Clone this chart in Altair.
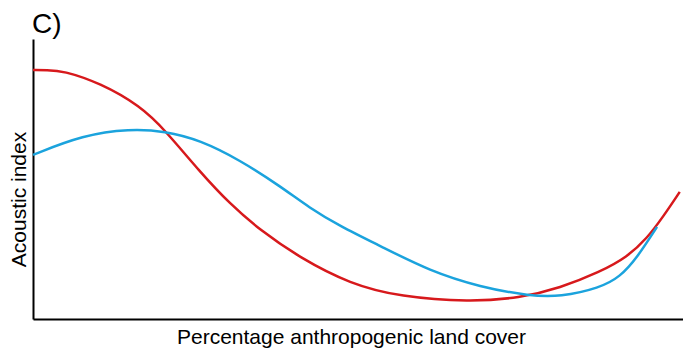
import altair as alt
import pandas as pd

# Red curve (x = % anthropogenic land cover, y = acoustic index, arbitrary units)
red_x = [0, 2.1, 4.6, 10.3, 16.5, 20.3, 25.7, 30.3, 34.9, 41.1, 48.8, 56.5, 67.2, 74.9,
         81.1, 87.2, 91.4, 94.5, 96.9, 99.5]
red_y = [88.9, 88.9, 88.7, 84.3, 76.1, 67.5, 52.5, 41.1, 31.8, 21.8, 12.5, 7.9, 6.1, 7.5,
         11.1, 16.8, 22.1, 28.9, 36.4, 45.4]

# Blue curve
blue_x = [0, 7.7, 14.9, 20.3, 25.7, 31.8, 38.0, 42.6, 47.2, 53.4, 61.1, 68.8, 76.5,
          81.1, 87.2, 90.3, 92.9, 96.0]
blue_y = [58.6, 65.7, 67.9, 67.1, 63.9, 56.8, 47.5, 39.6, 33.2, 26.1, 17.1, 11.4, 8.2,
          7.9, 11.1, 15.0, 21.8, 32.9]

series_names = ["red", "blue"]
series_colors = ["#d7191c", "#1ba3dd"]

df = pd.concat([
    pd.DataFrame({"x": red_x, "y": red_y, "series": "red", "order": range(len(red_x))}),
    pd.DataFrame({"x": blue_x, "y": blue_y, "series": "blue", "order": range(len(blue_x))}),
])

FONT = "Liberation Sans"

chart = alt.Chart(df).mark_line(interpolate="basis", strokeWidth=2.5).encode(
    x=alt.X("x:Q", scale=alt.Scale(domain=[0, 100], nice=False, zero=False),
            axis=alt.Axis(title="Percentage anthropogenic land cover", labels=False, ticks=False,
                          grid=False, domainColor="black", domainWidth=2,
                          titleFont=FONT, titleFontSize=21, titleFontWeight="normal",
                          titleColor="black", titleBaseline="alphabetic",
                          titleX=318, titleY=24, titleAlign="center")),
    y=alt.Y("y:Q", scale=alt.Scale(domain=[0, 100], nice=False, zero=False),
            axis=alt.Axis(title="Acoustic index", labels=False, ticks=False,
                          grid=False, domainColor="black", domainWidth=2,
                          titleFont=FONT, titleFontSize=21, titleFontWeight="normal",
                          titleColor="black", titleBaseline="alphabetic",
                          titleAngle=-90, titleX=-8, titleY=160, titleAlign="center")),
    color=alt.Color("series:N", scale=alt.Scale(domain=series_names, range=series_colors), legend=None),
    detail="series:N",
    order="order:Q",
).properties(
    width=650,
    height=280,
    title=alt.TitleParams("C)", anchor="start", frame="group", font=FONT, fontSize=28,
                          fontWeight="normal", color="black", baseline="alphabetic", offset=4,
                          dx=-1, dy=26),
    autosize=alt.AutoSizeParams(type="none"),
    padding={"left": 33, "top": 39, "right": 0, "bottom": 29},
).configure(background="white").configure_view(stroke=None)

chart.save("out.html", embed_options={"renderer": "svg", "actions": False})
